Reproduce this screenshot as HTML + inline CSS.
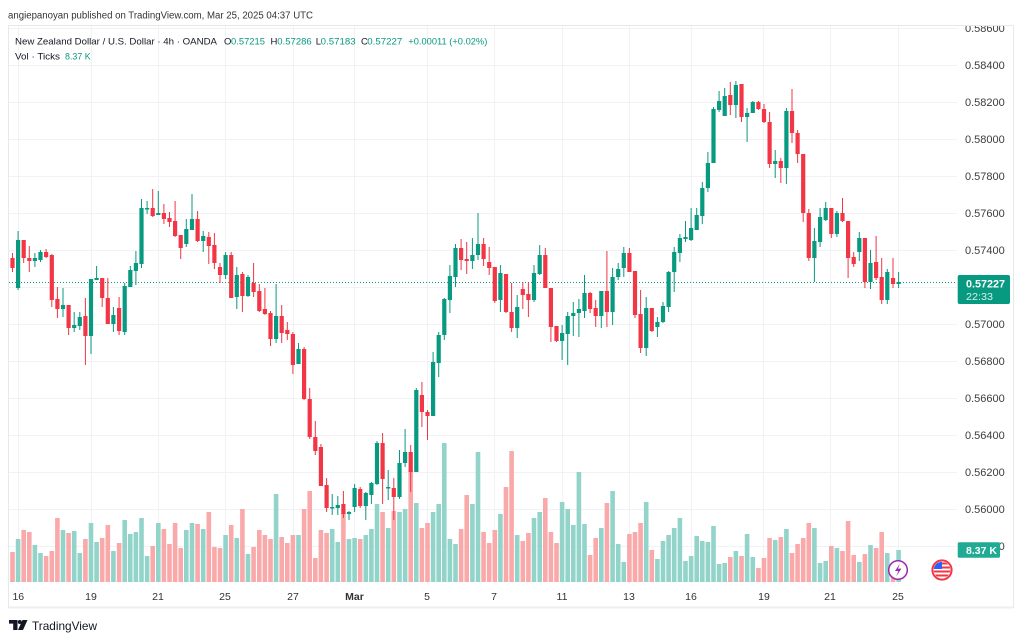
<!DOCTYPE html>
<html><head><meta charset="utf-8"><style>
html,body{margin:0;padding:0;background:#fff;}
svg{display:block;}
text{font-family:"Liberation Sans",Arial,sans-serif;}
</style></head><body>
<svg width="1024" height="641" viewBox="0 0 1024 641" xmlns="http://www.w3.org/2000/svg">
<defs><clipPath id="cp"><rect x="9" y="26" width="1004" height="581"/></clipPath>
<clipPath id="fc"><circle cx="942" cy="570" r="8.3"/></clipPath></defs>
<rect width="1024" height="641" fill="#fff"/>
<text x="8" y="18.5" font-size="10" fill="#333" textLength="305" lengthAdjust="spacingAndGlyphs">angiepanoyan published on TradingView.com, Mar 25, 2025 04:37 UTC</text>
<rect x="8.5" y="25.5" width="1005" height="582" fill="#fff" stroke="#e6e8ee" stroke-width="1"/>
<line x1="9" y1="607.5" x2="1013" y2="607.5" stroke="#eceef2" stroke-width="2"/>
<g clip-path="url(#cp)">
<g stroke="#f1f2f5" stroke-width="1">
<path d="M9 28.5H957M9 65.5H957M9 102.5H957M9 139.5H957M9 176.5H957M9 213.5H957M9 250.5H957M9 287.5H957M9 324.5H957M9 361.5H957M9 398.5H957M9 435.5H957M9 472.5H957M9 509.5H957M9 546.5H957"/>
<path d="M18.5 26V585M91.5 26V585M158.5 26V585M225.5 26V585M293.5 26V585M354.5 26V585M427.5 26V585M494.5 26V585M562.5 26V585M629.5 26V585M691.5 26V585M763.5 26V585M830.5 26V585M898.5 26V585"/>
</g>
<path fill="none" stroke="#92d4c9" stroke-width="4.6" d="M18.1 582V539M34.9 582V545M40.5 582V553M63 582V530M74.2 582V531M79.8 582V553M91 582V523M96.6 582V542M113.4 582V551M124.7 582V520M130.3 582V534M135.9 582V532M141.5 582V518M147.1 582V556M158.3 582V523M186.3 582V530M192 582V523M203.2 582V529M225.6 582V535M236.8 582V538M248 582V554M276.1 582V494M298.5 582V535M332.2 582V529M337.8 582V542M349 582V539M354.6 582V538M365.8 582V535M371.4 582V529M377 582V504M388.2 582V528M399.5 582V512M405.1 582V509M416.3 582V503M433.1 582V512M438.7 582V504M444.3 582V443M449.9 582V539M455.5 582V544M472.4 582V504M478 582V452M500.4 582V514M517.2 582V535M534 582V518M539.7 582V512M562.1 582V502M567.7 582V509M573.3 582V525M578.9 582V472M584.5 582V524M601.3 582V528M612.6 582V491M618.2 582V544M623.8 582V562M646.2 582V502M657.4 582V559M663 582V541M668.6 582V535M674.2 582V528M679.9 582V518M685.5 582V561M691.1 582V556M696.7 582V536M702.3 582V541M707.9 582V542M713.5 582V526M719.1 582V564M724.7 582V563M735.9 582V551M747.1 582V534M752.8 582V557M775.2 582V540M786.4 582V529M814.4 582V528M820.1 582V563M825.7 582V561M836.9 582V548M859.3 582V562M870.5 582V545M887.3 582V553M898.6 582V550"/>
<path fill="none" stroke="#f9a9aa" stroke-width="4.6" d="M12.5 582V552M23.7 582V530M29.3 582V532M46.1 582V556M51.8 582V551M57.4 582V518M68.6 582V533M85.4 582V539M102.2 582V538M107.8 582V525M119.1 582V543M152.7 582V546M163.9 582V529M169.5 582V544M175.1 582V523M180.7 582V548M197.6 582V524M208.8 582V512M214.4 582V547M220 582V548M231.2 582V525M242.4 582V509M253.6 582V547M259.3 582V530M264.9 582V535M270.5 582V539M281.7 582V537M287.3 582V543M292.9 582V535M304.1 582V509M309.7 582V491M315.3 582V558M320.9 582V530M326.6 582V533M343.4 582V513M360.2 582V539M382.6 582V512M393.8 582V511M410.7 582V470M421.9 582V528M427.5 582V523M461.1 582V529M466.7 582V495M483.6 582V532M489.2 582V543M494.8 582V530M506 582V487M511.6 582V451M522.8 582V541M528.4 582V533M545.3 582V498M550.9 582V532M556.5 582V543M590.1 582V555M595.7 582V538M606.9 582V503M629.4 582V534M635 582V532M640.6 582V523M651.8 582V550M730.3 582V557M741.5 582V556M758.4 582V568M764 582V558M769.6 582V538M780.8 582V537M792 582V553M797.6 582V544M803.2 582V538M808.8 582V523M831.3 582V546M842.5 582V551M848.1 582V521M853.7 582V555M864.9 582V554M876.1 582V548M881.7 582V532M893 582V570"/>
<line x1="9" y1="282.5" x2="957" y2="282.5" stroke="#089981" stroke-width="1" stroke-dasharray="1 2"/>
<path fill="none" stroke="#089981" stroke-width="1" d="M18.1 231V290M34.9 253V267M40.5 250V262M63 288V317M74.2 312V332M79.8 312V330M91 279V354M96.6 266V280M113.4 307V332M124.7 283V335M130.3 266V287M135.9 251V285M141.5 199V268M147.1 201V214M158.3 191V215M186.3 219V247M192 194V230M203.2 231V252M225.6 252V279M236.8 267V309M248 275V297M276.1 284V343M298.5 343V364M332.2 494V515M337.8 496V515M349 511V520M354.6 484V512M365.8 492V520M371.4 482V504M377 441V485M388.2 470V500M399.5 450V499M405.1 429V467M416.3 388V472M433.1 352V416M438.7 332V377M444.3 298V340M449.9 265V313M455.5 244V287M472.4 238V269M478 213V260M500.4 265V312M517.2 295V338M534 265V302M539.7 245V275M562.1 325V360M567.7 312V365M573.3 302V336M578.9 299V337M584.5 275V318M601.3 291V328M612.6 268V325M618.2 263V280M623.8 247V277M646.2 297V356M657.4 317V337M663 302V323M668.6 271V312M674.2 247V292M679.9 234V262M685.5 221V242M691.1 208V241M696.7 208V230M702.3 182V224M707.9 152V192M713.5 107V163M719.1 91V112M724.7 88V116M735.9 81V118M747.1 108V142M752.8 101V113M775.2 150V178M786.4 108V184M814.4 228V282M820.1 208V247M825.7 202V221M836.9 211V237M859.3 232V261M870.5 250V289M887.3 269V304M898.6 272V288"/>
<path fill="none" stroke="#089981" stroke-width="4.2" d="M18.1 240V288M34.9 258V261M40.5 252V260M63 305V309M74.2 325V328M79.8 317V326M91 279V336M96.6 278V280M113.4 315V324M124.7 286V332M130.3 270V287M135.9 263V271M141.5 208V264M147.1 208V209.5M158.3 213V215M186.3 229V244M192 219V230M203.2 236V241M225.6 255V275M236.8 275V297M248 277V296M276.1 316V339M298.5 349V364M332.2 507V508.5M337.8 505V508M349 512V514M354.6 488V507M365.8 493V506M371.4 483V495M377 443V484M388.2 487V488.5M399.5 463V497M405.1 452V463M416.3 390V472M433.1 362V416M438.7 335V363M444.3 299V335M449.9 276V300M455.5 248V277M472.4 255V261M478 244V255M500.4 273V300M517.2 307V328M534 273V300M539.7 255V274M562.1 333V341M567.7 316V334M573.3 313V316M578.9 309V313M584.5 293V311M601.3 291V316M612.6 277V312M618.2 269V277M623.8 253V268M646.2 308V348M657.4 322V327M663 306V322M668.6 272V307M674.2 252V272M679.9 238V253M685.5 237V239M691.1 228V240M696.7 215V230M702.3 188V216M707.9 163V188M713.5 109V163M719.1 101V110M724.7 96V116M735.9 85V105M747.1 113V117M752.8 102V113M775.2 161V164M786.4 111V168M814.4 241V258M820.1 217V242M825.7 208V220M836.9 213V234M859.3 238V252M870.5 263V282M887.3 272V300M898.6 282V284"/>
<path fill="none" stroke="#f23645" stroke-width="1" d="M12.5 253V272M23.7 240V263M29.3 246V272M46.1 249V258M51.8 254V307M57.4 287V318M68.6 305V335M85.4 298V365M102.2 278V307M107.8 278V324M119.1 297V335M152.7 189V217M163.9 204V224M169.5 212V227M175.1 201V237M180.7 235V259M197.6 211V242M208.8 232V264M214.4 233V269M220 263V283M231.2 252V298M242.4 272V312M253.6 263V297M259.3 284V312M264.9 288V315M270.5 311V346M281.7 305V343M287.3 322V340M292.9 332V374M304.1 347V400M309.7 388V439M315.3 421V455M320.9 444V486M326.6 478V512M343.4 491V518M360.2 487V508M382.6 433V504M393.8 478V520M410.7 445V492M421.9 382V427M427.5 410V440M461.1 239V270M466.7 242V274M483.6 238V266M489.2 247V275M494.8 267V303M506 274V313M511.6 283V332M522.8 282V309M528.4 282V317M545.3 248V288M550.9 288V342M556.5 326V342M590.1 292V313M595.7 300V327M606.9 251V327M629.4 248V272M635 271V318M640.6 290V353M651.8 308V332M730.3 82V115M741.5 84V122M758.4 101V110M764 104V123M769.6 112V168M780.8 158V183M792 89V143M797.6 130V163M803.2 154V222M808.8 209V261M831.3 208V238M842.5 198V222M848.1 221V278M853.7 252V267M864.9 238V288M876.1 236V280M881.7 258V304M893 258V288"/>
<path fill="none" stroke="#f23645" stroke-width="4.2" d="M12.5 258V268M23.7 240V258M29.3 258V261M46.1 252V257M51.8 255V300M57.4 299V309M68.6 305V328M85.4 316V336M102.2 278V298M107.8 298V324M119.1 308V331M152.7 208V216M163.9 213V219M169.5 218V222M175.1 221V236M180.7 235V248M197.6 219V241M208.8 237V246M214.4 245V263M220 267V275M231.2 255V298M242.4 274V296M253.6 283V292M259.3 291V311M264.9 309V314M270.5 313V339M281.7 316V333M287.3 330V334M292.9 334V365M304.1 349V399M309.7 399V437M315.3 437V451M320.9 447V486M326.6 485V508M343.4 504V514M360.2 489V506M382.6 443V479M393.8 488V497M410.7 452V472M421.9 395V412M427.5 412V416M461.1 248V260M466.7 259V261M483.6 244V259M489.2 262V268M494.8 267V301M506 274V312M511.6 312V328M522.8 289V295M528.4 294V300M545.3 255V288M550.9 288V327M556.5 326V341M590.1 293V309M595.7 308V316M606.9 291V312M629.4 253V272M635 271V315M640.6 314V348M651.8 308V331M730.3 95V105M741.5 84V117M758.4 102V109M764 109V122M769.6 122V164M780.8 161V168M792 111V133M797.6 133V154M803.2 154V213M808.8 213V258M831.3 208V234M842.5 213V221M848.1 221V258M853.7 257V264M864.9 238V282M876.1 262V278M881.7 277V300M893 278V284"/>
<g font-size="11" fill="#3c3c3c">
<text x="965" y="32">0.58600</text>
<text x="965" y="69">0.58400</text>
<text x="965" y="106">0.58200</text>
<text x="965" y="143">0.58000</text>
<text x="965" y="180">0.57800</text>
<text x="965" y="217">0.57600</text>
<text x="965" y="254">0.57400</text>
<text x="965" y="328">0.57000</text>
<text x="965" y="365">0.56800</text>
<text x="965" y="402">0.56600</text>
<text x="965" y="439">0.56400</text>
<text x="965" y="476">0.56200</text>
<text x="965" y="513">0.56000</text>
<text x="965" y="550">0.55800</text>
</g>
</g>
<g font-size="9.5" fill="#131722">
<text x="15" y="44.3" textLength="202" lengthAdjust="spacingAndGlyphs">New Zealand Dollar / U.S. Dollar · 4h · OANDA</text>
<text x="224" y="44.3">O</text>
<text x="270.5" y="44.3">H</text>
<text x="315.8" y="44.3">L</text>
<text x="361" y="44.3">C</text>
<text x="15" y="59.3" textLength="45" lengthAdjust="spacingAndGlyphs">Vol · Ticks</text>
</g>
<g font-size="9.5" fill="#089981">
<text x="231" y="44.3" textLength="34" lengthAdjust="spacingAndGlyphs">0.57215</text>
<text x="277.3" y="44.3" textLength="34.4" lengthAdjust="spacingAndGlyphs">0.57286</text>
<text x="320.7" y="44.3" textLength="35" lengthAdjust="spacingAndGlyphs">0.57183</text>
<text x="367.3" y="44.3" textLength="35" lengthAdjust="spacingAndGlyphs">0.57227</text>
<text x="408.3" y="44.3" textLength="79" lengthAdjust="spacingAndGlyphs">+0.00011 (+0.02%)</text>
<text x="65" y="59.3" textLength="25.7" lengthAdjust="spacingAndGlyphs">8.37 K</text>
</g>
<rect x="957.7" y="275" width="52.3" height="29" rx="2" fill="#089981"/>
<text x="966" y="287.3" font-size="11" font-weight="bold" fill="#fff" textLength="39" lengthAdjust="spacingAndGlyphs">0.57227</text>
<text x="966" y="300" font-size="10.5" fill="#d6f0eb" textLength="27" lengthAdjust="spacingAndGlyphs">22:33</text>
<rect x="957.7" y="542.3" width="42.3" height="15.4" rx="1.5" fill="#22ab94"/>
<text x="966" y="554" font-size="10.5" font-weight="bold" fill="#fff" textLength="31" lengthAdjust="spacingAndGlyphs">8.37 K</text>
<g font-size="10.5" fill="#333" text-anchor="middle">
<text x="18.3" y="600">16</text>
<text x="91" y="600">19</text>
<text x="158" y="600">21</text>
<text x="225" y="600">25</text>
<text x="293" y="600">27</text>
<text x="354.5" y="600" font-weight="bold">Mar</text>
<text x="427" y="600">5</text>
<text x="494" y="600">7</text>
<text x="562" y="600">11</text>
<text x="629" y="600">13</text>
<text x="691" y="600">16</text>
<text x="764" y="600">19</text>
<text x="830" y="600">21</text>
<text x="898" y="600">25</text>
</g>
<circle cx="898" cy="570" r="9.3" fill="#fff" stroke="#9c27b0" stroke-width="1.5"/>
<path d="M900 563.5L895 571H898.4L896.2 576.5L901.4 568.6H898Z" fill="#9c27b0"/>
<circle cx="942" cy="570" r="9.6" fill="#fff" stroke="#f23645" stroke-width="2"/>
<g clip-path="url(#fc)">
<rect x="933" y="561" width="18" height="18" fill="#fff"/>
<path d="M933 563.5H951M933 567.5H951M933 571.5H951M933 575.5H951" stroke="#f23645" stroke-width="2"/>
<rect x="933" y="561" width="9" height="8" fill="#2962ff"/>
</g>
<g fill="#131722">
<path d="M9 620H17.5V630H13.2V623.6H9Z"/>
<circle cx="19.8" cy="622" r="2"/>
<path d="M22.5 620H27.5L23 630H18Z"/>
</g>
<text x="32" y="630" font-size="11.7" fill="#131722" textLength="65" lengthAdjust="spacingAndGlyphs">TradingView</text>
</svg>
</body></html>
